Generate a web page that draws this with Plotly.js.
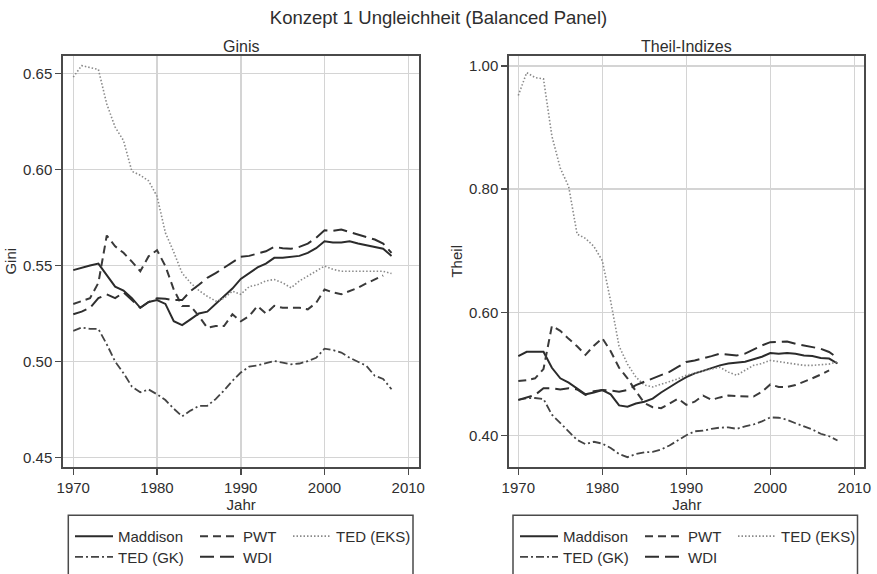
<!DOCTYPE html>
<html>
<head>
<meta charset="utf-8">
<script src="https://cdn.plot.ly/plotly-3.0.1.min.js"></script>
<style>
html,body{margin:0;padding:0;background:#fff;}
#chart{width:877px;height:574px;}
</style>
</head>
<body>
<div id="chart"></div>
<script>
// ---- data ----
const years = [1970,1971,1972,1973,1974,1975,1976,1977,1978,1979,
               1980,1981,1982,1983,1984,1985,1986,1987,1988,1989,
               1990,1991,1992,1993,1994,1995,1996,1997,1998,1999,
               2000,2001,2002,2003,2004,2005,2006,2007,2008];

const seriesNames = ["Maddison","PWT","TED (EKS)","TED (GK)","WDI"];

// Gini (left panel)
const giniMaddison = [0.5476,0.549,0.550,0.551,0.545,0.539,0.537,0.533,0.528,0.531,
                      0.532,0.530,0.521,0.519,0.522,0.525,0.526,0.530,0.534,0.538,
                      0.543,0.546,0.549,0.551,0.554,0.554,0.5545,0.555,0.5566,0.559,
                      0.5626,0.562,0.562,0.5626,0.5614,0.5605,0.5597,0.5587,0.555];
const giniPWT = [0.530,0.5315,0.533,0.541,0.5656,0.560,0.5566,0.552,0.547,0.5548,
                 0.558,0.5497,0.5375,0.5289,0.529,0.5237,0.5176,0.5185,0.5185,0.5246,
                 0.521,0.5237,0.5289,0.525,0.529,0.528,0.528,0.528,0.5272,0.5306,
                 0.5375,0.536,0.535,0.5367,0.5384,0.5407,0.5427,0.5448,null];
const giniEKS = [0.648,0.654,0.653,0.652,0.634,0.622,0.615,0.599,0.597,0.594,
                 0.586,0.567,0.557,0.546,0.541,0.537,0.534,0.5315,0.533,0.5367,
                 0.535,0.539,0.540,0.542,0.5427,0.541,0.5384,0.542,0.5445,0.547,
                 0.5497,0.548,0.547,0.547,0.547,0.547,0.547,0.547,0.5458];
const giniGK = [0.516,0.5177,0.517,0.517,0.509,0.500,0.494,0.487,0.484,0.4855,
                0.483,0.480,0.4755,0.4715,0.4745,0.477,0.477,0.4805,0.485,0.490,
                0.4943,0.4974,0.498,0.499,0.5003,0.4995,0.4986,0.499,0.5003,0.502,
                0.5067,0.506,0.5047,0.502,0.500,0.4978,0.4926,0.491,0.4856];
const giniWDI = [0.5246,0.526,0.528,0.533,0.535,0.533,0.536,0.532,0.528,0.531,
                 0.533,0.5327,0.532,0.532,0.5367,0.540,0.5436,0.546,0.5488,0.5514,
                 0.5545,0.555,0.556,0.5574,0.5597,0.559,0.5587,0.5597,0.5614,0.5644,
                 0.5683,0.568,0.5687,0.5673,0.566,0.5648,0.5635,0.5614,0.5566];

// Theil (right panel)
const theilMaddison = [0.529,0.536,0.536,0.536,0.510,0.493,0.486,0.476,0.467,0.470,
                       0.474,0.467,0.449,0.447,0.452,0.455,0.460,0.470,0.479,0.487,
                       0.495,0.501,0.505,0.510,0.514,0.517,0.518,0.520,0.524,0.528,
                       0.534,0.533,0.534,0.533,0.530,0.529,0.526,0.525,0.517];
const theilPWT = [0.4885,0.490,0.493,0.508,0.578,0.570,0.557,0.545,0.531,0.546,
                  0.558,0.537,0.510,0.493,0.472,0.453,0.446,0.4445,0.452,0.460,
                  0.450,0.455,0.465,0.458,0.462,0.465,0.464,0.4635,0.4633,0.471,
                  0.483,0.479,0.479,0.482,0.487,0.493,0.499,0.506,null];
const theilEKS = [0.952,0.989,0.981,0.979,0.886,0.834,0.804,0.727,0.720,0.707,
                  0.684,0.618,0.545,0.516,0.495,0.482,0.479,0.483,0.488,0.492,
                  0.498,0.502,0.505,0.508,0.511,0.503,0.498,0.506,0.514,0.517,
                  0.522,0.520,0.518,0.516,0.514,0.514,0.515,0.516,0.520];
const theilGK = [0.458,0.4606,0.461,0.4595,0.434,0.420,0.407,0.393,0.386,0.390,
                 0.387,0.380,0.370,0.365,0.370,0.373,0.3735,0.3775,0.384,0.392,
                 0.4005,0.407,0.408,0.411,0.413,0.4134,0.411,0.415,0.418,0.423,
                 0.4295,0.429,0.4257,0.420,0.415,0.410,0.403,0.399,0.392];
const theilWDI = [0.458,0.462,0.466,0.4767,0.477,0.475,0.477,0.475,0.466,0.472,
                  0.474,0.473,0.4713,0.474,0.482,0.4874,0.4928,0.498,0.5035,0.5115,
                  0.5196,0.522,0.525,0.529,0.533,0.531,0.530,0.533,0.540,0.5464,
                  0.5517,0.5517,0.5528,0.549,0.5464,0.544,0.541,0.5357,0.526];

const xTicks = [1970,1980,1990,2000,2010];
const giniTicks = [0.45,0.50,0.55,0.60,0.65];
const theilTicks = [0.40,0.60,0.80,1.00];

// ---- styles ----
const W = 877, H = 574;
const FONT = "Liberation Sans, Arial, Helvetica, sans-serif";
const TXT = "#2e2e2e";
const styles = [
  {color:"#2b2b2b", width:2.0, dash:"solid"},
  {color:"#3a3a3a", width:2.0, dash:"8px,5px"},
  {color:"#8a8a8a", width:1.6, dash:"1.5px,2px"},
  {color:"#444",    width:1.8, dash:"8px,3px,2px,3px"},
  {color:"#2f2f2f", width:2.0, dash:"14px,6px"}
];
const legendWidths = [72, 40, 90, 72, 40];
const leftLegends  = ["legend","legend","legend","legend2","legend2"];
const rightLegends = ["legend3","legend3","legend3","legend4","legend4"];

const giniSeries  = [giniMaddison, giniPWT, giniEKS, giniGK, giniWDI];
const theilSeries = [theilMaddison, theilPWT, theilEKS, theilGK, theilWDI];

const traces = [];
giniSeries.forEach((ys,i)=>{
  traces.push({x:years, y:ys, type:"scatter", mode:"lines", name:seriesNames[i],
    xaxis:"x", yaxis:"y", line:styles[i], legend:leftLegends[i],
    legendwidth:legendWidths[i], connectgaps:false, hoverinfo:"skip"});
});
theilSeries.forEach((ys,i)=>{
  traces.push({x:years, y:ys, type:"scatter", mode:"lines", name:seriesNames[i],
    xaxis:"x2", yaxis:"y2", line:styles[i], legend:rightLegends[i],
    legendwidth:legendWidths[i], connectgaps:false, hoverinfo:"skip"});
});

const px = v => v / W;
const py = v => 1 - v / H;

const axisCommon = {
  showline:true, mirror:true, linecolor:"#4a4a4a", linewidth:2,
  showgrid:true, gridcolor:"#d4d4d4", gridwidth:1.5,
  zeroline:false, ticks:"outside", ticklen:6, tickwidth:1.5, tickcolor:"#4a4a4a",
  tickfont:{family:FONT, size:15, color:TXT}, automargin:false
};

function legendAt(xPix, yPix){
  return {orientation:"h", x:px(xPix), y:py(yPix), xanchor:"left", yanchor:"middle",
    font:{family:FONT, size:15, color:TXT}, bgcolor:"rgba(0,0,0,0)", borderwidth:0,
    itemwidth:38, traceorder:"normal", itemclick:false, itemdoubleclick:false};
}

const layout = {
  width:W, height:H, margin:{l:0,r:0,t:0,b:0},
  paper_bgcolor:"#fff", plot_bgcolor:"#fff",
  font:{family:FONT, color:TXT},
  title:{text:"Konzept 1 Ungleichheit (Balanced Panel)", x:0.5, xanchor:"center",
    y:py(18), yanchor:"middle", font:{family:FONT, size:18.5, color:TXT}},
  xaxis:Object.assign({}, axisCommon, {domain:[px(63.3), px(419)], range:[1968.81, 2011.28],
    tickvals:xTicks, anchor:"y",
    title:{text:"Jahr", standoff:2, font:{family:FONT, size:15, color:TXT}}}),
  yaxis:Object.assign({}, axisCommon, {domain:[py(472.3), py(56.7)], range:[0.4454, 0.659],
    tickvals:giniTicks, tickformat:".2f", anchor:"x",
    title:{text:"Gini", standoff:3, font:{family:FONT, size:15, color:TXT}}}),
  xaxis2:Object.assign({}, axisCommon, {domain:[px(509.3), px(864.3)], range:[1968.93, 2011.19],
    tickvals:xTicks, anchor:"y2",
    title:{text:"Jahr", standoff:2, font:{family:FONT, size:15, color:TXT}}}),
  yaxis2:Object.assign({}, axisCommon, {domain:[py(472.3), py(56.7)], range:[0.3498, 1.016],
    tickvals:theilTicks, tickformat:".2f", anchor:"x2",
    title:{text:"Theil", standoff:3, font:{family:FONT, size:15, color:TXT}}}),
  legend:legendAt(70, 543),
  legend2:legendAt(70, 564),
  legend3:legendAt(515, 543),
  legend4:legendAt(515, 564),
  annotations:[
    {text:"Ginis", xref:"paper", yref:"paper", x:px(241), y:py(47), xanchor:"center", yanchor:"middle",
     showarrow:false, font:{family:FONT, size:16, color:TXT}},
    {text:"Theil-Indizes", xref:"paper", yref:"paper", x:px(686), y:py(47), xanchor:"center", yanchor:"middle",
     showarrow:false, font:{family:FONT, size:16, color:TXT}}
  ],
  shapes:[
    {type:"rect", xref:"paper", yref:"paper", x0:px(68.3), x1:px(413), y0:py(600), y1:py(521.7),
     line:{color:"#4a4a4a", width:1.5}, fillcolor:"rgba(0,0,0,0)"},
    {type:"rect", xref:"paper", yref:"paper", x0:px(513), x1:px(857.5), y0:py(600), y1:py(521.7),
     line:{color:"#4a4a4a", width:1.5}, fillcolor:"rgba(0,0,0,0)"}
  ],
  showlegend:true
};

Plotly.newPlot("chart", traces, layout, {staticPlot:true, displayModeBar:false});
</script>
</body>
</html>
